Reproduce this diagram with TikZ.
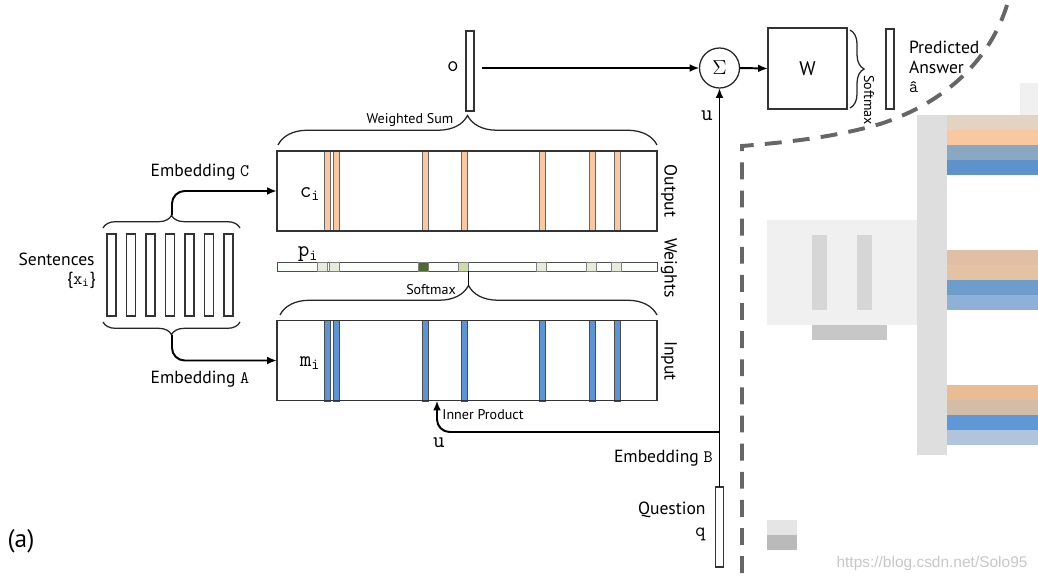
\documentclass[tikz,border=0pt]{standalone}
\usepackage{fontspec}
\setmainfont{PT Sans}
\newfontfamily\wmfont{Liberation Sans}
\usetikzlibrary{positioning,arrows.meta,decorations.pathreplacing,calc}
\definecolor{stripeorange}{HTML}{F9C8A0}
\definecolor{stripeblue}{HTML}{5B95D5}
\definecolor{wlight}{HTML}{E6ECDA}
\definecolor{wmid}{HTML}{CCDDAA}
\definecolor{wdark}{HTML}{4B6B2A}
\definecolor{dashgrey}{HTML}{666666}
\newlength{\px}\setlength{\px}{0.025cm}
\tikzset{
    % standard arrow tip
    >={Latex[length=7pt,width=5.5pt]},
    % connector style
    pil/.style={
           ->,
           draw=black,
           line width=1.4pt},
    thinline/.style={draw=black, line width=1pt},
    bracestyle/.style={decorate, decoration={brace, amplitude=#1},
           draw=black!85, line width=0.9pt}
}

\begin{document}
\begin{tikzpicture}[x=0.025cm, y=-0.025cm, outer sep=0pt]
\tikzstyle{membox}=[draw=black!80, rectangle, line width=0.9pt, inner sep=0pt,
                   minimum width=380\px, minimum height=80\px]
\tikzstyle{weightbar}=[draw=black!70, fill=green!2, rectangle, line width=0.6pt, inner sep=0pt,
                   minimum width=380\px, minimum height=9\px]
\tikzstyle{vecbar}=[draw=black!80, fill=white, rectangle, line width=0.9pt, inner sep=0pt,
                   minimum width=8\px, minimum height=80\px]
\tikzstyle{lbl}=[inner sep=1pt, font=\fontsize{12.5}{14}\selectfont]
\tikzstyle{smalllbl}=[inner sep=1pt, font=\fontsize{10}{12}\selectfont]
\tikzstyle{veclbl}=[inner sep=1pt, font=\fontsize{16}{18}\selectfont]
\tikzstyle{blur}=[draw=none]

\useasboundingbox (0,0) rectangle (1038,580);

%%%%%%%%%%%%%%%%%%%%%%%%%%%%%%%%%
% blurred right part
%%%%%%%%%%%%%%%%%%%%%%%%%%%%%%%%%
\fill[blur, fill=black!6] (1020,83) rectangle (1038,115);
\fill[blur, fill=black!13] (917,115) rectangle (947,455);
\fill[blur, fill=black!6] (767,220) rectangle (917,325);
\fill[blur, fill=black!16] (812,235) rectangle (827,310);
\fill[blur, fill=black!16] (857,235) rectangle (872,310);
\fill[blur, fill=black!22] (812,325) rectangle (887,340);
\fill[blur, fill=black!10] (767,520) rectangle (797,535);
\fill[blur, fill=black!27] (767,535) rectangle (797,550);
\foreach \gy/\ca/\cb/\cc/\cd in {115/E3D3C3/F8C9A0/8BA7C2/5D92CC,
                                250/DFC0A4/E4C3A5/6F9DCB/8FB1D7,
                                385/E9BC94/D3BCA8/5E98D6/B0C4DB}{
  \definecolor{ba}{HTML}{\ca}\definecolor{bb}{HTML}{\cb}
  \definecolor{bc}{HTML}{\cc}\definecolor{bd}{HTML}{\cd}
  \fill[blur, fill=ba] (947,\gy) rectangle (1038,\gy+15);
  \fill[blur, fill=bb] (947,\gy+15) rectangle (1038,\gy+30);
  \fill[blur, fill=bc] (947,\gy+30) rectangle (1038,\gy+45);
  \fill[blur, fill=bd] (947,\gy+45) rectangle (1038,\gy+60);
}
\draw[dashgrey, line width=2.8pt, dash pattern=on 12pt off 8pt]
    (1007,5) .. controls (990,60) and (945,103) .. (880,124)
    .. controls (835,137) and (790,142) .. (742,146) -- (742,580);

%%%%%%%%%%%%%%%%%%%%%%%%%%%%%%%%%
% sentences
%%%%%%%%%%%%%%%%%%%%%%%%%%%%%%%%%
\foreach \i in {0,...,6}
    \node[vecbar, minimum width=9\px, minimum height=82\px] (s\i) at (111.5+19.5*\i,275) {};
\node[lbl, anchor=east] (sent) at (96,259) {Sentences};
\node[lbl, anchor=east] (sentx) at (97,280) {\{$\mathtt{x}_{\mathtt{i}}$\}};

\draw[bracestyle=9pt] (103,228) -- (240,228);
\draw[bracestyle=9pt] (240,322) -- (103,322);

%%%%%%%%%%%%%%%%%%%%%%%%%%%%%%%%%
% memory stripes
%%%%%%%%%%%%%%%%%%%%%%%%%%%%%%%%%
\foreach \sx in {327,336,425,464,542,592,617}{
  \filldraw[fill=stripeorange, draw=black!60, line width=0.5pt] (\sx-3,151) rectangle (\sx+3,231);
  \filldraw[fill=stripeblue, draw=black!70, line width=0.5pt] (\sx-3,320) rectangle (\sx+3,401);
}
\node[membox] (outmem) at (467,191) {};
\node[membox] (inmem) at (467,360.5) {};
\node[weightbar] (pbar) at (467,266.5) {};
\foreach \cx/\cc in {322/wlight,334.5/wlight,423.5/wdark,463/wmid,541.5/wlight,591.5/wlight,616/wlight}
  \filldraw[fill=\cc, draw=black!50, line width=0.4pt] (\cx-5,262) rectangle (\cx+5,271);

\node[veclbl] (clbl) at (310,194) {$\mathtt{c}_{\mathtt{i}}$};
\node[veclbl] (plbl) at (308,254) {$\mathtt{p}_{\mathtt{i}}$};
\node[veclbl] (mlbl) at (310,363) {$\mathtt{m}_{\mathtt{i}}$};

\node[lbl, rotate=-90] (outlbl) at (669,191) {Output};
\node[lbl, rotate=-90] (wlbl) at (669,268) {Weights};
\node[lbl, rotate=-90] (inlbl) at (669,361) {Input};

\draw[pil, rounded corners=9pt] (172,215) |- (outmem.west);
\draw[pil, rounded corners=9pt] (172,335) |- (inmem.west);
\node[lbl] (embc) at (200,172) {Embedding $\mathtt{C}$};
\node[lbl] (emba) at (200,379) {Embedding $\mathtt{A}$};

%%%%%%%%%%%%%%%%%%%%%%%%%%%%%%%%%
% weighted sum / softmax
%%%%%%%%%%%%%%%%%%%%%%%%%%%%%%%%%
\draw[bracestyle=21pt] (278,145) -- (657,145);
\draw[bracestyle=21pt] (280,315) -- (657,315);
\coordinate (smtip) at (468.5,285);
\draw[thinline, line width=0.9pt] (smtip) -- (smtip |- pbar.south);
\node[smalllbl] (wsum) at (410,120) {Weighted Sum};
\node[smalllbl] (smax) at (431,290) {Softmax};

\node[vecbar] (obar) at (470,71) {};
\node[veclbl] (olbl) at (453,67) {$\mathtt{o}$};

%%%%%%%%%%%%%%%%%%%%%%%%%%%%%%%%%
% question and answer
%%%%%%%%%%%%%%%%%%%%%%%%%%%%%%%%%
\node[vecbar] (qbar) at (719.5,527) {};
\node[lbl, anchor=east] (qlbl) at (707,510) {Question};
\node[inner sep=1pt, font=\fontsize{14}{16}\selectfont, anchor=east] (qsym) at (707,534) {$\mathtt{q}$};
\node[lbl, anchor=east] (embb) at (714,458) {Embedding $\mathtt{B}$};

\node[draw=black!85, circle, line width=0.9pt, minimum size=40\px, inner sep=0pt,
      font=\fontsize{14}{16}\selectfont] (sum) at (719.5,68) {$\Sigma$};
\node[draw=black!80, rectangle, line width=0.9pt, minimum width=79\px, minimum height=81\px,
      font=\fontsize{14}{16}\selectfont] (wbox) at (807.5,68.5) {W};
\node[vecbar] (abar) at (890,69) {};
\draw[bracestyle=10pt] (850,30) -- (850,108);
\node[smalllbl, rotate=-90, anchor=west] (wsmax) at (869,74) {Softmax};
\node[lbl, anchor=north west, align=left, inner sep=0pt] (pred) at (909,41)
      {Predicted\\Answer\\{\ttfamily\^{a}}};

\coordinate (junc) at (qbar.north |- 0,432);
\draw[pil] (qbar.north) -- (sum.south);
\draw[pil, rounded corners=9pt] (junc) -| (437,0 |- inmem.south);
\draw[pil] ([xshift=6pt]obar.east |- sum.west) -- (sum.west);
\draw[pil] (sum.east) -- (wbox.west);
\node[veclbl] (ulbl) at (707,116) {$\mathtt{u}$};
\node[veclbl] (ulbl2) at (439,443) {$\mathtt{u}$};
\node[smalllbl, anchor=west] (iprod) at (441,415) {Inner Product};

\node[inner sep=0pt, font=\fontsize{18}{20}\selectfont] (alabel) at (21,541) {(a)};
\node[inner sep=0pt, text=black!22, font=\wmfont\fontsize{11}{13}\selectfont] (wmark) at (932,563)
      {https://blog.csdn.net/Solo95};
\end{tikzpicture}
\end{document}
